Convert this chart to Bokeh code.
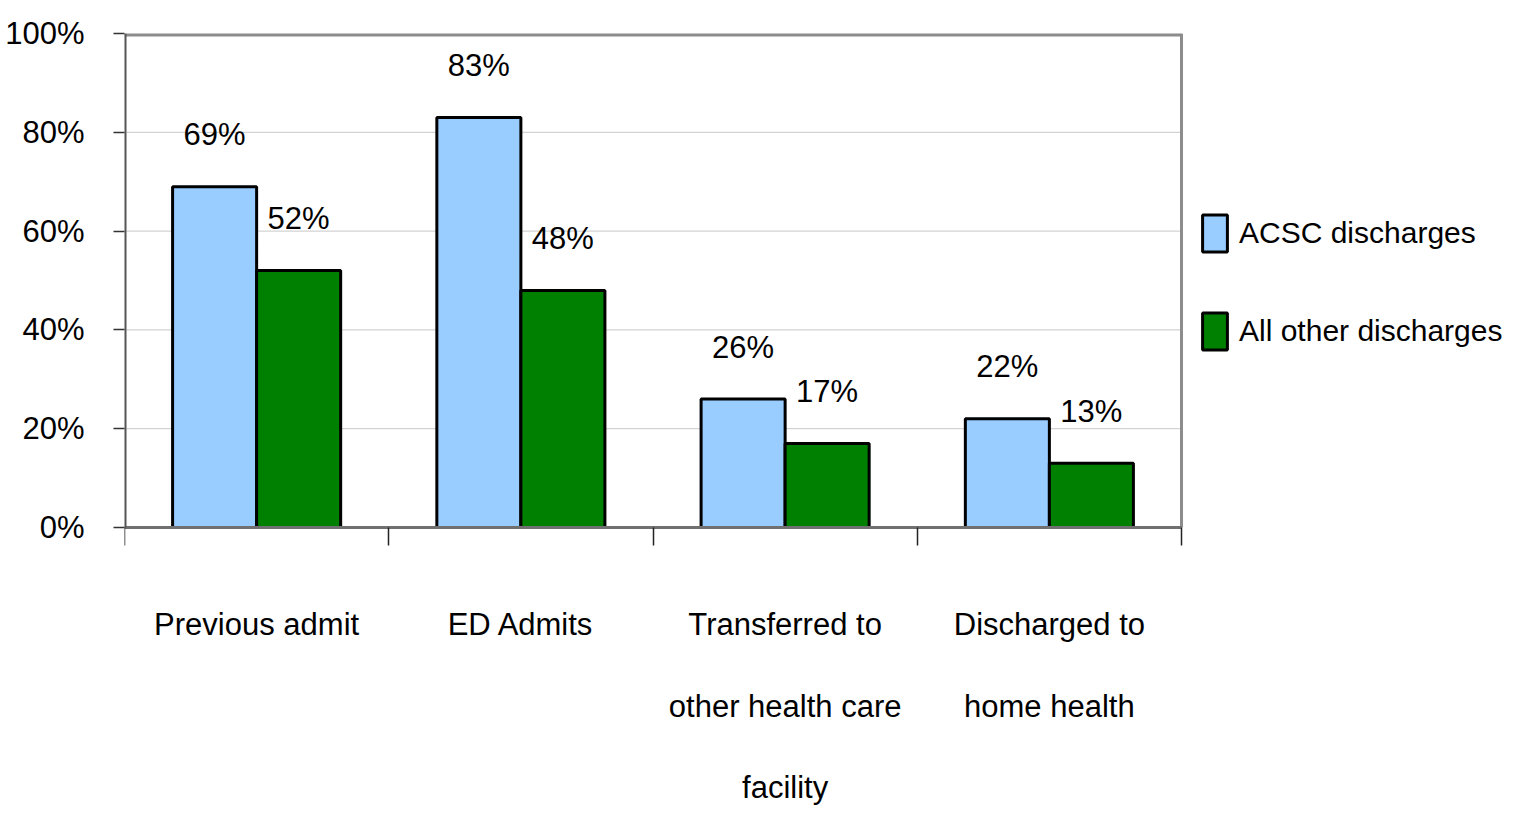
from bokeh.plotting import figure
from bokeh.models import (Range1d, FixedTicker, NumeralTickFormatter, Legend, LegendItem,
                          ColumnDataSource)
from bokeh.core.properties import value
from bokeh.embed import file_html
from bokeh.resources import INLINE

categories = ["Previous admit", "ED Admits", "Transferred to\nother health care\nfacility",
              "Discharged to\nhome health"]
acsc = [0.69, 0.83, 0.26, 0.22]
other = [0.52, 0.48, 0.17, 0.13]
series_names = ["ACSC discharges", "All other discharges"]
y_ticks = [0, 0.2, 0.4, 0.6, 0.8, 1.0]

FONT = "Liberation Sans"
FS = "31px"

# layout (pixels)
LEFT, TOP = 124, 33
PLOT_W, PLOT_H = 1057, 494          # chart area of the 4 categories, 0..100%
FRAME_W, FRAME_H = 1378, 778        # frame also holds legend and category labels
ncat = len(categories)
px_x = PLOT_W / ncat
px_y = PLOT_H / 1.0

p = figure(frame_width=FRAME_W, frame_height=FRAME_H, min_border_left=LEFT, min_border_top=TOP,
           min_border_bottom=0, min_border_right=0, x_axis_location="above",
           x_range=Range1d(0, FRAME_W / px_x), y_range=Range1d(-(FRAME_H - PLOT_H) / px_y, 1),
           output_backend="svg", toolbar_location=None, background_fill_color="white")
p.outline_line_color = None
p.xgrid.grid_line_color = None
p.ygrid.grid_line_color = None

centers = [i + 0.5 for i in range(ncat)]
bounds = list(range(ncat + 1))
bw = 0.318

# gridlines and frame borders (within the category area only)
grid_y = [t for t in y_ticks if 0 < t < 1]
p.segment(x0=[0] * len(grid_y), x1=[ncat] * len(grid_y), y0=grid_y, y1=grid_y,
          line_color="#c8c8c8", line_width=1)
p.segment(x0=[0], x1=[ncat], y0=[1], y1=[1], line_color="#8c8c8c", line_width=6)
p.segment(x0=[ncat], x1=[ncat], y0=[0], y1=[1], line_color="#8c8c8c", line_width=3)

src = ColumnDataSource(dict(
    xa=[c - bw / 2 for c in centers], xo=[c + bw / 2 for c in centers],
    acsc=acsc, other=other,
    la=[f"{round(v*100)}%" for v in acsc], lo=[f"{round(v*100)}%" for v in other]))

ra = p.vbar(x="xa", top="acsc", width=bw, source=src, fill_color="#99ccff",
            line_color="black", line_width=3)
ro = p.vbar(x="xo", top="other", width=bw, source=src, fill_color="#008000",
            line_color="black", line_width=3)

# axis lines
p.segment(x0=[0], x1=[ncat], y0=[0], y1=[0], line_color="#707070", line_width=3)
p.segment(x0=[0], x1=[0], y0=[0], y1=[1], line_color="#555555", line_width=4)

for xcol, ycol, tcol in (("xa", "acsc", "la"), ("xo", "other", "lo")):
    p.text(x=xcol, y=ycol, text=tcol, source=src, text_align="center",
           text_baseline="middle", y_offset=-52, text_font=value(FONT),
           text_font_size=FS, text_color="black")

# category labels, one line per row
line_gap = [97, 179, 260]
cx, ct, co = [], [], []
for c, cat in zip(centers, categories):
    for k, line in enumerate(cat.split("\n")):
        cx.append(c); ct.append(line); co.append(line_gap[k])
csrc = ColumnDataSource(dict(x=cx, y=[0] * len(cx), text=ct, off=co))
p.text(x="x", y="y", text="text", y_offset="off", source=csrc, text_align="center",
       text_baseline="alphabetic", text_font=value(FONT), text_font_size=FS,
       text_color="black")

# y axis
p.yaxis.ticker = FixedTicker(ticks=y_ticks)
p.yaxis.formatter = NumeralTickFormatter(format="0%")
p.yaxis.major_label_text_font = FONT
p.yaxis.major_label_text_font_size = FS
p.yaxis.major_label_text_color = "black"
p.yaxis.major_label_standoff = 29
p.yaxis.major_tick_in = 0
p.yaxis.major_tick_out = 11
p.yaxis.minor_tick_line_color = None
p.yaxis.axis_line_color = None
p.yaxis.major_tick_line_color = "#333333"
p.yaxis.major_tick_line_width = 1.5

# x axis drawn at 0%, ticks at category boundaries pointing down (no tick labels)
p.xaxis.fixed_location = 0
p.xaxis.ticker = FixedTicker(ticks=bounds)
p.xaxis.major_label_overrides = {b: "" for b in bounds}
p.xaxis.major_label_standoff = 0
p.xaxis.major_tick_in = 18
p.xaxis.major_tick_out = 0
p.xaxis.minor_tick_line_color = None
p.xaxis.axis_line_color = None
p.xaxis.major_tick_line_color = "#222222"
p.xaxis.major_tick_line_width = 1.5

legend = Legend(items=[LegendItem(label=series_names[0], renderers=[ra]),
                       LegendItem(label=series_names[1], renderers=[ro])],
                location=(1075, 457), glyph_width=31, glyph_height=46, label_height=46,
                spacing=52, padding=0, margin=0, label_standoff=9,
                label_text_font=FONT, label_text_font_size="30px", label_text_color="black",
                border_line_color=None, background_fill_alpha=0)
p.add_layout(legend, "center")

open("out.html", "w").write(file_html(p, INLINE))
